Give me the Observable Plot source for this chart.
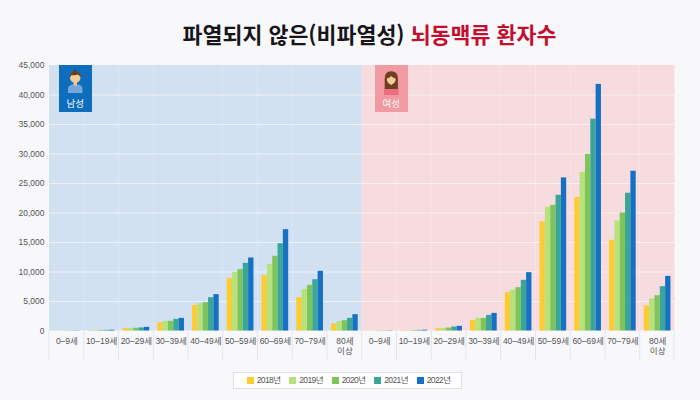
<!DOCTYPE html>
<html lang="ko">
<head>
<meta charset="utf-8">
<script src="https://cdn.jsdelivr.net/npm/d3@7"></script>
<script src="https://cdn.jsdelivr.net/npm/@observablehq/plot@0.6"></script>
<style>
html,body{margin:0;padding:0;background:#f8f8fb;}
#page{position:relative;width:700px;height:400px;overflow:hidden;font-family:"Noto Sans CJK KR","Noto Sans",sans-serif;}
#title{height:50px;padding-top:20px;padding-left:39px;box-sizing:border-box;margin:0;text-align:center;font-size:21.7px;line-height:28px;font-weight:700;color:#16161a;white-space:pre;}
#title span{color:#c20f2f;}
#chart svg{display:block;}
.badge{position:absolute;top:65px;width:32.5px;height:47px;color:#fff;font-size:9.5px;text-align:center;}
.badge svg{position:absolute;left:0;top:0;}
.badge div{position:absolute;left:0;right:0;top:32px;line-height:13px;}
#legend{position:absolute;left:233px;top:372px;width:229px;height:17px;box-sizing:border-box;background:#fff;border:1px solid #dfe0e4;font:8.5px "Liberation Sans","Noto Sans CJK KR",sans-serif;color:#555;letter-spacing:-.6px;}
#legend .it{position:absolute;top:0;line-height:15px;white-space:nowrap;padding-left:10px;}
#legend i{position:absolute;left:0;top:4px;width:7px;height:7px;}
</style>
</head>
<body>
<div id="page">
  <h1 id="title">파열되지 않은(비파열성) <span>뇌동맥류 환자수</span></h1>
  <div id="chart"></div>
  <div class="badge" style="left:59px;background:#0f6dbd">
    <svg width="32.5" height="34" viewBox="0 0 32.5 34">
      <path d="M9 28v-4q0-3.500 4-4.500h6.500q4 1 4 4.500v4z" fill="#74a8dc"/>
      <rect x="14.500" y="16" width="3.500" height="4.500" fill="#eec48f"/>
      <circle cx="16.250" cy="12.500" r="5.300" fill="#f3cb98"/>
      <path d="M10.800 13q-.8-6 5.500-6.500q6 .5 5.400 6.500q-1-3-3-3.500q-3 1.200-6 .5q-1.300 1-1.900 3z" fill="#6a3d1e"/>
      <circle cx="16.250" cy="6" r="1.500" fill="#6a3d1e"/>
    </svg>
    <div>남성</div>
  </div>
  <div class="badge" style="left:375px;background:#f19aa2">
    <svg width="32.5" height="34" viewBox="0 0 32.5 34">
      <path d="M9 30v-5q0-3 4-4h6.500q4 1 4 4v5z" fill="#ec6f7f"/>
      <path d="M9.700 24v-11q.3-6.500 6.500-6.700q6.500.2 6.700 6.700v11z" fill="#6d3f22"/>
      <path d="M11.800 13.500q2.500-.5 4.400-2.500q2 2 4.500 2.500q0 4.500-4.500 6.500q-4.400-2-4.400-6.500z" fill="#f3cb98"/>
    </svg>
    <div>여성</div>
  </div>
  <div id="legend"></div>
</div>
<script>
const years = ["2018년", "2019년", "2020년", "2021년", "2022년"];
const yearColors = ["#fdcb32", "#b5e27c", "#7fc45a", "#3ba697", "#1670c4"];
const ageLabels = ["0–9세", "10–19세", "20–29세", "30–39세", "40–49세", "50–59세", "60–69세", "70–79세", "80세\n이상"];
const yTicks = [0, 5000, 10000, 15000, 20000, 25000, 30000, 35000, 40000, 45000];
const gridTicks = [5000, 10000, 15000, 20000, 25000, 30000, 35000, 40000];

const male2018 = [20, 60, 400, 1410, 4350, 8870, 9380, 5650, 1190];
const male2019 = [25, 80, 430, 1640, 4630, 9950, 11300, 7060, 1580];
const male2020 = [30, 100, 460, 1640, 4800, 10400, 12660, 7740, 1750];
const male2021 = [30, 110, 520, 1980, 5650, 11470, 14800, 8700, 2150];
const male2022 = [35, 130, 620, 2150, 6160, 12370, 17180, 10110, 2770];

const female2018 = [20, 60, 400, 1800, 6500, 18480, 22670, 15370, 4240];
const female2019 = [25, 70, 450, 2150, 6950, 20960, 26900, 18650, 5420];
const female2020 = [30, 80, 500, 2150, 7350, 21300, 29920, 20000, 5990];
const female2021 = [35, 100, 680, 2650, 8590, 23000, 35910, 23350, 7510];
const female2022 = [40, 130, 790, 2990, 9890, 25950, 41800, 27080, 9260];

const maleSeries = [male2018, male2019, male2020, male2021, male2022];
const femaleSeries = [female2018, female2019, female2020, female2021, female2022];
const panelColors = {M: "#d2e1f1", F: "#f7dcdf"};

const slots = ["M", "F"].flatMap(g => ageLabels.map((label, i) => ({slot: g + i, gender: g, label})));
const rows = [["M", maleSeries], ["F", femaleSeries]].flatMap(([g, series]) =>
  series.flatMap((vals, k) => vals.map((value, i) => ({slot: g + i, year: years[k], value}))));
const step = 625.5 / 18;

const chart = Plot.plot({
  width: 700, height: 312,
  marginTop: 15, marginBottom: 2, marginLeft: 49, marginRight: 25.5,
  style: {background: "transparent", overflow: "visible"},
  fx: {domain: slots.map(d => d.slot), padding: 0, round: false, axis: null, label: null},
  x: {domain: years, padding: 0, paddingOuter: 0.76, round: false, axis: null, label: null},
  y: {domain: [-5000, 45000], axis: null, label: null},
  color: {domain: years, range: yearColors},
  marks: [
    Plot.barY(slots, {fx: "slot", y1: 0, y2: 45000, fill: d => panelColors[d.gender], inset: 0}),
    Plot.ruleY(gridTicks, {stroke: "#fff", strokeOpacity: 0.55, strokeWidth: 1}),
    Plot.barY(rows, {fx: "slot", x: "year", y: "value", fill: "year", inset: 0}),
    Plot.barY(slots, {fx: "slot", y1: -5000, y2: 0, fill: "#e4e5ea", insetLeft: -0.5, insetRight: step - 0.5}),
    Plot.barY(slots.slice(-1), {fx: "slot", y1: -5000, y2: 0, fill: "#e4e5ea", insetLeft: step - 1}),
    Plot.text(slots, {fx: "slot", y: 0, text: "label", dy: 6, lineAnchor: "top", lineHeight: 1.18,
      fontSize: 8.5, fill: "#555", fontFamily: "'Liberation Sans','Noto Sans CJK KR'", letterSpacing: "-0.75px"}),
    Plot.axisY({ticks: yTicks, anchor: "left", tickSize: 0, tickPadding: 5, tickFormat: d3.format(","),
      fontSize: 8.5, color: "#555", fill: "#555", fontFamily: "'Liberation Sans'", letterSpacing: "-0.5px"})
  ]
});
document.getElementById("chart").appendChild(chart);

const legend = document.getElementById("legend");
years.forEach((y, i) => {
  const it = document.createElement("div");
  it.className = "it";
  it.style.left = (12.7 + i * 42.5) + "px";
  it.innerHTML = `<i style="background:${yearColors[i]}"></i>${y}`;
  legend.appendChild(it);
});
</script>
</body>
</html>
